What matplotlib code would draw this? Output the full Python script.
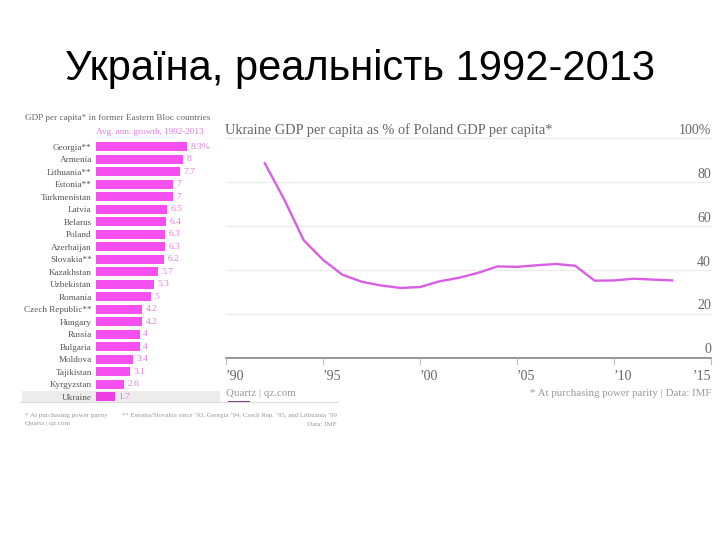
import matplotlib
matplotlib.use("Agg")
import matplotlib.pyplot as plt
from matplotlib.patches import Rectangle
from matplotlib.lines import Line2D

W, H = 720, 540
DPI = 100

# ---------------- data ----------------
countries = ["Georgia**", "Armenia", "Lithuania**", "Estonia**", "Turkmenistan",
             "Latvia", "Belarus", "Poland", "Azerbaijan", "Slovakia**", "Kazakhstan",
             "Uzbekistan", "Romania", "Czech Republic**", "Hungary", "Russia",
             "Bulgaria", "Moldova", "Tajikistan", "Kyrgyzstan", "Ukraine"]
growth = [8.3, 8, 7.7, 7, 7, 6.5, 6.4, 6.3, 6.3, 6.2, 5.7, 5.3, 5, 4.2, 4.2,
          4, 4, 3.4, 3.1, 2.6, 1.7]
growth_labels = ["8.3%", "8", "7.7", "7", "7", "6.5", "6.4", "6.3", "6.3", "6.2",
                 "5.7", "5.3", "5", "4.2", "4.2", "4", "4", "3.4", "3.1", "2.6", "1.7"]

years = [1992, 1993, 1994, 1995, 1996, 1997, 1998, 1999, 2000, 2001, 2002,
         2003, 2004, 2005, 2006, 2007, 2008, 2009, 2010, 2011, 2012, 2013]
ukr_pct_poland = [88.5, 72, 53.5, 44.5, 37.7, 34.5, 32.8, 31.7, 32.1, 34.7, 36.3,
                  38.6, 41.5, 41.3, 42.0, 42.6, 41.8, 35.0, 35.1, 35.9, 35.5, 35.1]
y_ticks = [0, 20, 40, 60, 80, 100]
y_tick_labels = ["0", "20", "40", "60", "80", "100%"]
x_ticks = [1990, 1995, 2000, 2005, 2010, 2015]
x_tick_labels = ["\u201990", "\u201995", "\u201900", "\u201905", "\u201910", "\u201915"]

# ---------------- styles ----------------
SERIF = ["Liberation Serif", "DejaVu Serif"]
BAR_COLOR = "#f54ff0"
UKR_COLOR = "#ee3fe6"
VAL_COLOR = "#e07ade"
LINE_COLOR = "#d85fe4"
GREY_TXT = "#666666"


def fx(x):
    return x / W


def fy(y):
    return 1 - y / H


fig = plt.figure(figsize=(W / DPI, H / DPI), dpi=DPI)
fig.patch.set_facecolor("white")

# ---------------- slide title ----------------
fig.text(fx(360), fy(69), "Україна, реальність 1992-2013",
         family=["Liberation Sans Narrow", "Liberation Sans", "DejaVu Sans"],
         fontsize=30, ha="center", va="center", color="black")

# ---------------- left bar chart ----------------
fig.add_artist(Line2D([fx(20), fx(337)], [fy(401.5), fy(401.5)], color="#dddddd", lw=0.8))
fig.add_artist(Rectangle((fx(22), fy(402)), fx(220) - fx(22), fy(391) - fy(402),
                         transform=fig.transFigure, facecolor="#ececec", edgecolor="none", zorder=0))

row_px = 12.5
top_px = 146.7 - row_px / 2
bot_px = 146.7 + row_px * (len(countries) - 1) + row_px / 2
px_per_unit = 10.93
axb = fig.add_axes([fx(96), fy(bot_px), fx(216) - fx(96), (bot_px - top_px) / H])
axb.patch.set_alpha(0)
ypos = list(range(len(countries)))
colors = [BAR_COLOR] * (len(countries) - 1) + [UKR_COLOR]
axb.barh(ypos, growth, height=0.75, color=colors, edgecolor="none")
axb.set_xlim(0, 120 / px_per_unit)
axb.set_ylim(len(countries) - 0.5, -0.5)
axb.set_yticks(ypos)
axb.set_yticklabels(countries, family=SERIF, fontsize=6.6, color="#555555")
axb.tick_params(axis="y", length=0, pad=3)
axb.set_xticks([])
for s in axb.spines.values():
    s.set_visible(False)
for i, (v, lab) in enumerate(zip(growth, growth_labels)):
    axb.annotate(lab, (v, i), xytext=(2.5, 0), textcoords="offset points",
                 ha="left", va="center", family=SERIF, fontsize=6.8, color=VAL_COLOR)

fig.text(fx(25), fy(118), "GDP per capita* in former Eastern Bloc countries",
         family=SERIF, fontsize=6.7, color=GREY_TXT, ha="left", va="center")
fig.text(fx(96), fy(131.5), "Avg. ann. growth, 1992-2013",
         family=SERIF, fontsize=6.6, color=VAL_COLOR, ha="left", va="center")

fig.text(fx(25), fy(415), "* At purchasing power parity", family=SERIF,
         fontsize=5.1, color="#999999", ha="left", va="center")
fig.text(fx(25), fy(424), "Quartz | qz.com", family=SERIF,
         fontsize=5.1, color="#999999", ha="left", va="center")
fig.text(fx(337), fy(415),
         "** Estonia/Slovakia since \u201993, Georgia \u201994, Czech Rep. \u201995, and Lithuania \u201999",
         family=SERIF, fontsize=4.9, color="#999999", ha="right", va="center")
fig.text(fx(337), fy(424), "Data: IMF", family=SERIF,
         fontsize=5.1, color="#999999", ha="right", va="center")

# ---------------- right line chart ----------------
y0_px, y100_px = 357.5, 138
axl = fig.add_axes([fx(226), fy(y0_px), fx(711) - fx(226), (y0_px - y100_px) / H])
axl.patch.set_facecolor("white")
axl.set_xlim(1990, 2015)
axl.set_ylim(0, 100)
for t in y_ticks[1:]:
    axl.axhline(t, color="#ebebeb", lw=0.9, zorder=0, clip_on=False)
axl.axhline(0, color="#8c8c8c", lw=1.3, zorder=1, clip_on=False)
axl.plot(years, ukr_pct_poland, color=LINE_COLOR, lw=1.7, zorder=3,
         solid_joinstyle="round")
for s in axl.spines.values():
    s.set_visible(False)
axl.set_xticks([])
axl.set_yticks([])
for t, lab in zip(y_ticks, y_tick_labels):
    axl.annotate(lab, (1, t), xycoords=("axes fraction", "data"), xytext=(0, 5.5),
                 textcoords="offset points", ha="right", va="center",
                 family=SERIF, fontsize=10, color=GREY_TXT)
for i, (t, lab) in enumerate(zip(x_ticks, x_tick_labels)):
    axl.add_line(Line2D([t, t], [0, -2.8], color="#bbbbbb", lw=0.8, clip_on=False))
    ha = "right" if i == len(x_ticks) - 1 else "left"
    axl.annotate(lab, (t, 0), xytext=(0, -14), textcoords="offset points",
                 ha=ha, va="center", family=SERIF, fontsize=10, color=GREY_TXT)

fig.text(fx(225), fy(130), "Ukraine GDP per capita as % of Poland GDP per capita*",
         family=SERIF, fontsize=10.4, color=GREY_TXT, ha="left", va="center")
fig.text(fx(226), fy(393), "Quartz | qz.com", family=SERIF,
         fontsize=7.9, color="#999999", ha="left", va="center")
fig.text(fx(711), fy(393), "* At purchasing power parity | Data: IMF", family=SERIF,
         fontsize=7.8, color="#999999", ha="right", va="center")
fig.add_artist(Rectangle((fx(228), fy(403)), fx(250) - fx(228), fy(400.5) - fy(403),
                         transform=fig.transFigure, facecolor="#7b3c82", edgecolor="none"))

fig.savefig("out.png", dpi=DPI, facecolor="white")
